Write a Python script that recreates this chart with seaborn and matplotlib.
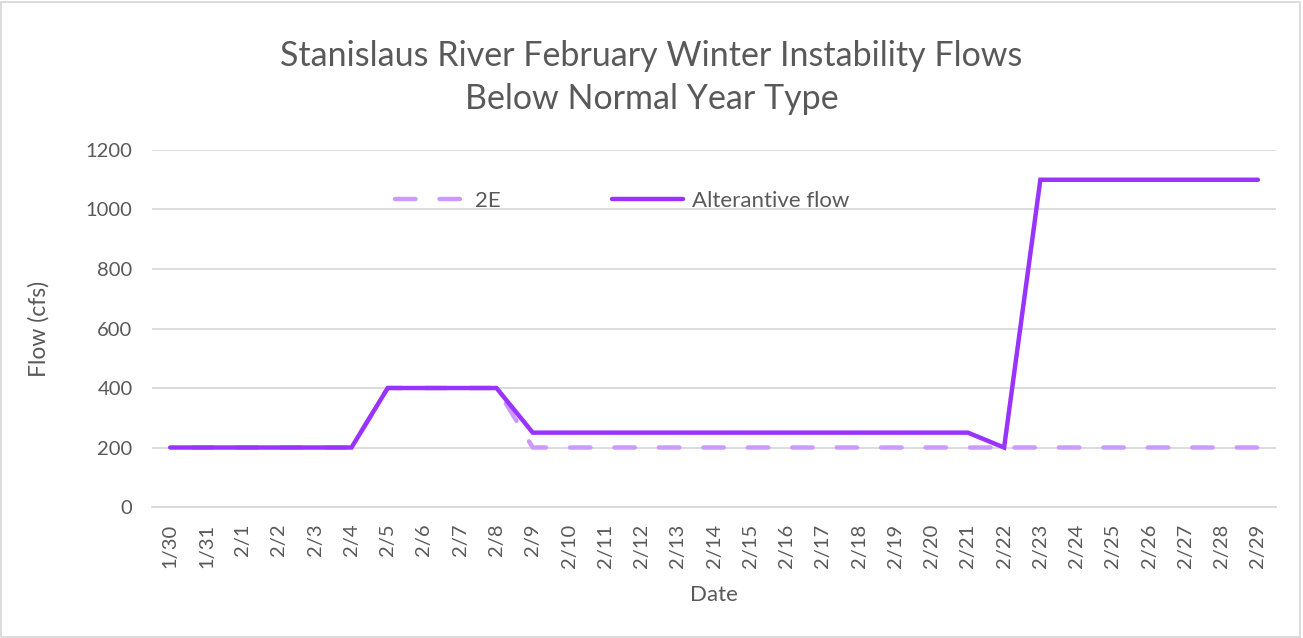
import pandas as pd
import matplotlib
matplotlib.use("Agg")
import matplotlib.pyplot as plt
import seaborn as sns
from matplotlib.patches import Rectangle

# data
dates = ['1/30', '1/31', '2/1', '2/2', '2/3', '2/4', '2/5', '2/6', '2/7', '2/8',
         '2/9', '2/10', '2/11', '2/12', '2/13', '2/14', '2/15', '2/16', '2/17', '2/18',
         '2/19', '2/20', '2/21', '2/22', '2/23', '2/24', '2/25', '2/26', '2/27', '2/28', '2/29']
flow_2e = [200, 200, 200, 200, 200, 200, 400, 400, 400, 400,
           200, 200, 200, 200, 200, 200, 200, 200, 200, 200,
           200, 200, 200, 200, 200, 200, 200, 200, 200, 200, 200]
flow_alt = [200, 200, 200, 200, 200, 200, 400, 400, 400, 400,
            250, 250, 250, 250, 250, 250, 250, 250, 250, 250,
            250, 250, 250, 200, 1100, 1100, 1100, 1100, 1100, 1100, 1100]

df = pd.DataFrame({'idx': range(len(dates)), 'date': dates, '2E': flow_2e, 'Alterantive flow': flow_alt})

sns.set_style('white')
plt.rcParams['font.family'] = ['Lato', 'DejaVu Sans']
text_col = '#595959'
grid_col = '#d9d9d9'

fig = plt.figure(figsize=(13.03, 6.38), dpi=100)
ax = fig.add_axes([0.1167, 0.2053, 0.8626, 0.5596])

sns.lineplot(data=df, x='idx', y='2E', ax=ax, color='#cc99ff', linewidth=3.2,
             dashes=False, label='2E', linestyle=(5, (4.6, 5.4)),
             solid_capstyle='round', dash_capstyle='round')
sns.lineplot(data=df, x='idx', y='Alterantive flow', ax=ax, color='#9933ff', linewidth=3.2,
             label='Alterantive flow', solid_capstyle='round', solid_joinstyle='miter')

ax.set_xlim(-0.5, len(dates) - 0.5)
ax.set_ylim(0, 1200)
ax.set_yticks(range(0, 1201, 200))
ax.grid(axis='y', color=grid_col, linewidth=1.3)
ax.set_axisbelow(True)
for s in ['top', 'right', 'left']:
    ax.spines[s].set_visible(False)
ax.spines['bottom'].set_color(grid_col)
ax.spines['bottom'].set_linewidth(1.3)

ax.set_xticks(range(len(dates)))
ax.set_xticklabels(dates, rotation=90)
ax.set_xticks([i - 0.5 for i in range(len(dates) + 1)], minor=True)
ax.tick_params(axis='x', which='major', length=0, pad=12, labelsize=14.5, labelcolor=text_col)
ax.tick_params(axis='x', which='minor', length=9, width=1.3, color=grid_col, direction='out')
ax.tick_params(axis='y', length=0, pad=14, labelsize=14.5, labelcolor=text_col)

ax.set_xlabel('Date', fontsize=16, color=text_col, labelpad=12)
ax.set_ylabel('Flow (cfs)', fontsize=16.5, color=text_col, labelpad=26)

fig.suptitle('Stanislaus River February Winter Instability Flows\nBelow Normal Year Type',
             fontsize=24.5, color=text_col, y=0.937, linespacing=1.42)

leg = ax.legend(loc='center', bbox_to_anchor=(0.418, 0.857), ncol=2, frameon=False,
                fontsize=16, handlelength=3.2, columnspacing=5.0, handletextpad=0.4,
                labelcolor=text_col)
# legend dash pattern starts with a full dash
leg.legend_handles[0].set_linestyle((0, (4.6, 5.4)))

fig.patches.append(Rectangle((0.001, 0.002), 0.997, 0.995, transform=fig.transFigure,
                             fill=False, edgecolor='#d9d9d9', linewidth=1.3))

fig.savefig('out.png', dpi=100)
